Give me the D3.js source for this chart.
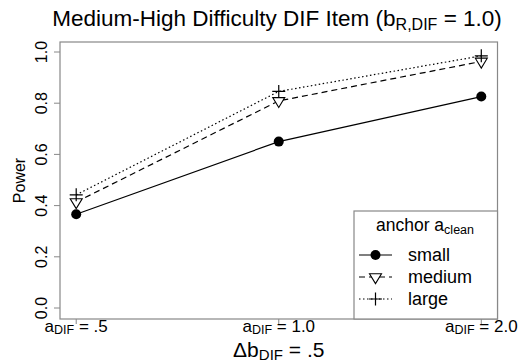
<!DOCTYPE html>
<html>
<head>
<meta charset="utf-8">
<script src="https://cdn.jsdelivr.net/npm/d3@7"></script>
<style>
  body { margin: 0; background: #fff; }
  svg { font-family: "Liberation Sans", Arial, sans-serif; }
</style>
</head>
<body>
<div id="chart"><svg></svg></div>
<script>
const categories = ['.5', '1.0', '2.0']
const seriesNames = ['small', 'medium', 'large']
const small = [0.366, 0.650, 0.826]
const medium = [0.414, 0.809, 0.963]
const large = [0.442, 0.846, 0.985]
const yTicks = [0.0, 0.2, 0.4, 0.6, 0.8, 1.0]

const width = 520, height = 364
const box = {left: 60, right: 497.5, top: 42, bottom: 319}

const svg = d3.select('#chart').select('svg')
  .attr('width', width)
  .attr('height', height)

// R style padded axes
const x = d3.scaleLinear().domain([0.92, 3.08]).range([box.left, box.right])
const y = d3.scaleLinear().domain([0, 1]).range([308, 52])

const grey = '#888'

svg.append('rect')
  .attr('x', box.left).attr('y', box.top)
  .attr('width', box.right - box.left).attr('height', box.bottom - box.top)
  .attr('fill', 'none').attr('stroke', grey).attr('stroke-width', 1.2)

// y axis
const yg = svg.append('g')
yg.selectAll('line').data(yTicks).enter().append('line')
  .attr('x1', box.left - 6).attr('x2', box.left)
  .attr('y1', d => y(d)).attr('y2', d => y(d))
  .attr('stroke', grey)
yg.selectAll('text').data(yTicks).enter().append('text')
  .attr('transform', d => `translate(47,${y(d)}) rotate(-90)`)
  .attr('text-anchor', 'middle')
  .attr('font-size', '16px')
  .text(d => d.toFixed(1))

svg.append('text')
  .attr('transform', `translate(25,${(box.top + box.bottom) / 2}) rotate(-90)`)
  .attr('text-anchor', 'middle')
  .attr('font-size', '16px')
  .text('Power')

// x axis
const xg = svg.append('g')
xg.selectAll('line').data(categories).enter().append('line')
  .attr('x1', (d, i) => x(i + 1)).attr('x2', (d, i) => x(i + 1))
  .attr('y1', box.bottom).attr('y2', box.bottom + 5)
  .attr('stroke', grey)
const xl = xg.selectAll('text').data(categories).enter().append('text')
  .attr('x', (d, i) => x(i + 1)).attr('y', 332)
  .attr('text-anchor', 'middle')
  .attr('font-size', '17px')
xl.append('tspan').text('a')
xl.append('tspan').attr('font-size', '12.5px').attr('dy', 2).text('DIF')
xl.append('tspan').attr('dy', -2).text(d => ' = ' + d)

const xt = svg.append('text')
  .attr('x', x(2)).attr('y', 357)
  .attr('text-anchor', 'middle')
  .attr('font-size', '21px')
xt.append('tspan').text('\u0394b')
xt.append('tspan').attr('font-size', '15px').attr('dy', 3).text('DIF')
xt.append('tspan').attr('dy', -3).text(' = .5')

// title
const tt = svg.append('text')
  .attr('x', 277).attr('y', 26)
  .attr('text-anchor', 'middle')
  .attr('font-size', '22.5px')
tt.append('tspan').text('Medium-High Difficulty DIF Item (b')
tt.append('tspan').attr('font-size', '16px').attr('dy', 4).text('R,DIF')
tt.append('tspan').attr('dy', -4).text(' = 1.0)')

// series
const series = [
  {name: seriesNames[0], values: small, dash: null, shape: 'circle'},
  {name: seriesNames[1], values: medium, dash: '6,4', shape: 'tri'},
  {name: seriesNames[2], values: large, dash: '1.5,2.5', shape: 'plus'}
]

const line = d3.line().x((d, i) => x(i + 1)).y(d => y(d))

function marker(g, shape, cx, cy) {
  if (shape === 'circle') {
    g.append('circle').attr('cx', cx).attr('cy', cy).attr('r', 5).attr('fill', '#000')
  } else if (shape === 'tri') {
    const s = 6
    g.append('path')
      .attr('d', `M${cx - s},${cy - s * 0.55}L${cx + s},${cy - s * 0.55}L${cx},${cy + s * 1.1}Z`)
      .attr('fill', '#fff').attr('stroke', '#000').attr('stroke-width', 1.1)
  } else {
    const s = 6.5
    g.append('path')
      .attr('d', `M${cx - s},${cy}L${cx + s},${cy}M${cx},${cy - s}L${cx},${cy + s}`)
      .attr('stroke', '#000').attr('stroke-width', 1.2)
  }
}

series.forEach(s => {
  svg.append('path')
    .attr('d', line(s.values))
    .attr('fill', 'none').attr('stroke', '#000').attr('stroke-width', 1.2)
    .attr('stroke-dasharray', s.dash)
})
series.forEach(s => {
  const g = svg.append('g')
  s.values.forEach((v, i) => marker(g, s.shape, x(i + 1), y(v)))
})

// legend
const lg = svg.append('g')
lg.append('rect')
  .attr('x', 354).attr('y', 211)
  .attr('width', box.right - 354).attr('height', box.bottom - 211)
  .attr('fill', '#fff').attr('stroke', grey).attr('stroke-width', 1.2)
const lt = lg.append('text').attr('x', 425).attr('y', 231)
  .attr('text-anchor', 'middle').attr('font-size', '17.5px')
lt.append('tspan').text('anchor a')
lt.append('tspan').attr('font-size', '12.5px').attr('dy', 3).text('clean')

series.forEach((s, i) => {
  const cy = 255 + i * 22
  lg.append('line')
    .attr('x1', 359).attr('x2', 392).attr('y1', cy).attr('y2', cy)
    .attr('stroke', '#000').attr('stroke-width', 1.2)
    .attr('stroke-dasharray', s.dash)
  marker(lg, s.shape, 375.5, cy)
  lg.append('text').attr('x', 408).attr('y', cy + 6)
    .attr('font-size', '18px').text(s.name)
})
</script>
</body>
</html>
